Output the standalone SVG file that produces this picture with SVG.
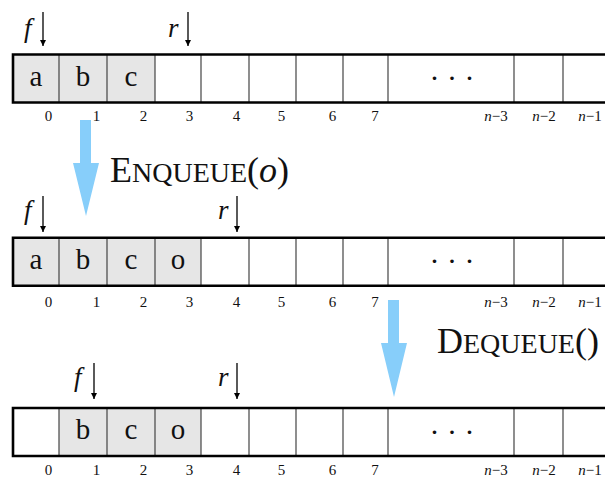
<svg xmlns="http://www.w3.org/2000/svg" width="605" height="478" viewBox="0 0 605 478">
<style>
.bg{fill:#ffffff}
.cell{fill:#ffffff;stroke:none}
.full{fill:#e6e6e6;stroke:none}
.div{stroke:#444;stroke-width:1.2}
.edge{stroke:#000;stroke-width:2.6;fill:none}
text{font-family:"Liberation Serif","Times New Roman","DejaVu Serif",serif;fill:#111}
.val{font-size:29px;text-anchor:middle}
.idx{font-size:15px;text-anchor:middle}
.ptr{font-style:italic;font-size:27px}
.op{font-size:36px}
.sc{font-size:28px}
.it{font-style:italic}
.dots{font-size:30px;text-anchor:middle}
.ptrline{stroke:#000;stroke-width:1.3;fill:none;marker-end:url(#ah)}
.big{fill:#87CEFA;stroke:none}
</style>
<defs>
<marker id="ah" viewBox="0 0 10 10" refX="10" refY="5" markerWidth="6" markerHeight="9" markerUnits="userSpaceOnUse" orient="auto">
<path d="M0,0 L10,5 L0,10 Z" fill="#000"/>
</marker>
<g id="dividers">
<line class="div" x1="59" y1="0" x2="59" y2="48"/>
<line class="div" x1="107" y1="0" x2="107" y2="48"/>
<line class="div" x1="155" y1="0" x2="155" y2="48"/>
<line class="div" x1="201" y1="0" x2="201" y2="48"/>
<line class="div" x1="249" y1="0" x2="249" y2="48"/>
<line class="div" x1="296" y1="0" x2="296" y2="48"/>
<line class="div" x1="343" y1="0" x2="343" y2="48"/>
<line class="div" x1="388" y1="0" x2="388" y2="48"/>
<line class="div" x1="514" y1="0" x2="514" y2="48"/>
<line class="div" x1="563" y1="0" x2="563" y2="48"/>
</g>
<g id="indices">
<text class="idx" x="48.5" y="121">0</text>
<text class="idx" x="96.5" y="121">1</text>
<text class="idx" x="143.5" y="121">2</text>
<text class="idx" x="189.5" y="121">3</text>
<text class="idx" x="236.5" y="121">4</text>
<text class="idx" x="281.5" y="121">5</text>
<text class="idx" x="332.5" y="121">6</text>
<text class="idx" x="375" y="121">7</text>
<text class="idx" x="496" y="121"><tspan class="it">n</tspan>−3</text>
<text class="idx" x="544" y="121"><tspan class="it">n</tspan>−2</text>
<text class="idx" x="590" y="121"><tspan class="it">n</tspan>−1</text>
</g>
</defs>
<rect class="bg" x="0" y="0" width="605" height="478"/>

<g id="array1">
<rect class="full" x="13" y="54.5" width="142" height="48"/>
<use href="#dividers" x="0" y="54.5"/>
<path class="edge" d="M607,54.5 H13 V102.5 H607"/>
<text class="val" x="36" y="85.5">a</text>
<text class="val" x="83" y="85.5">b</text>
<text class="val" x="131" y="85.5">c</text>
<text class="dots" x="452" y="88">· · ·</text>
<use href="#indices" x="0" y="0"/>
</g>

<g id="array2">
<rect class="full" x="13" y="237.7" width="188" height="48"/>
<use href="#dividers" x="0" y="237.7"/>
<path class="edge" d="M607,237.7 H13 V285.7 H607"/>
<text class="val" x="36" y="268.7">a</text>
<text class="val" x="83" y="268.7">b</text>
<text class="val" x="131" y="268.7">c</text>
<text class="val" x="178" y="268.7">o</text>
<text class="dots" x="452" y="271.2">· · ·</text>
<use href="#indices" x="0" y="185.5"/>
</g>

<g id="array3">
<rect class="full" x="59" y="408" width="142" height="48"/>
<use href="#dividers" x="0" y="408"/>
<path class="edge" d="M607,408 H13 V456 H607"/>
<text class="val" x="83" y="439">b</text>
<text class="val" x="131" y="439">c</text>
<text class="val" x="178" y="439">o</text>
<text class="dots" x="452" y="441.5">· · ·</text>
<use href="#indices" x="0" y="354"/>
</g>

<g id="labels">
<text class="ptr" x="24" y="37">f</text>
<text class="ptr" x="168" y="37">r</text>
<text class="ptr" x="24" y="219">f</text>
<text class="ptr" x="218" y="219">r</text>
<text class="ptr" x="74" y="386">f</text>
<text class="ptr" x="218" y="386">r</text>
</g>

<g id="op-enqueue">
<text class="op" x="110" y="182">E<tspan class="sc">NQUEUE</tspan>(<tspan class="it">o</tspan>)</text>
</g>
<g id="op-dequeue">
<text class="op" x="437" y="353">D<tspan class="sc">EQUEUE</tspan>()</text>
</g>

<g id="connectors">
<line class="ptrline" x1="43" y1="12" x2="43" y2="46"/>
<line class="ptrline" x1="188" y1="12" x2="188" y2="46"/>
<line class="ptrline" x1="43" y1="196" x2="43" y2="232"/>
<line class="ptrline" x1="237" y1="196" x2="237" y2="232"/>
<line class="ptrline" x1="94" y1="363" x2="94" y2="399"/>
<line class="ptrline" x1="237" y1="363" x2="237" y2="399"/>
<polygon class="big" points="80,120 91,120 91,163 99,163 86,216 73,163 80,163"/>
<polygon class="big" points="388,300 399,300 399,343 407,343 394,397 381,343 388,343"/>
</g>
</svg>
